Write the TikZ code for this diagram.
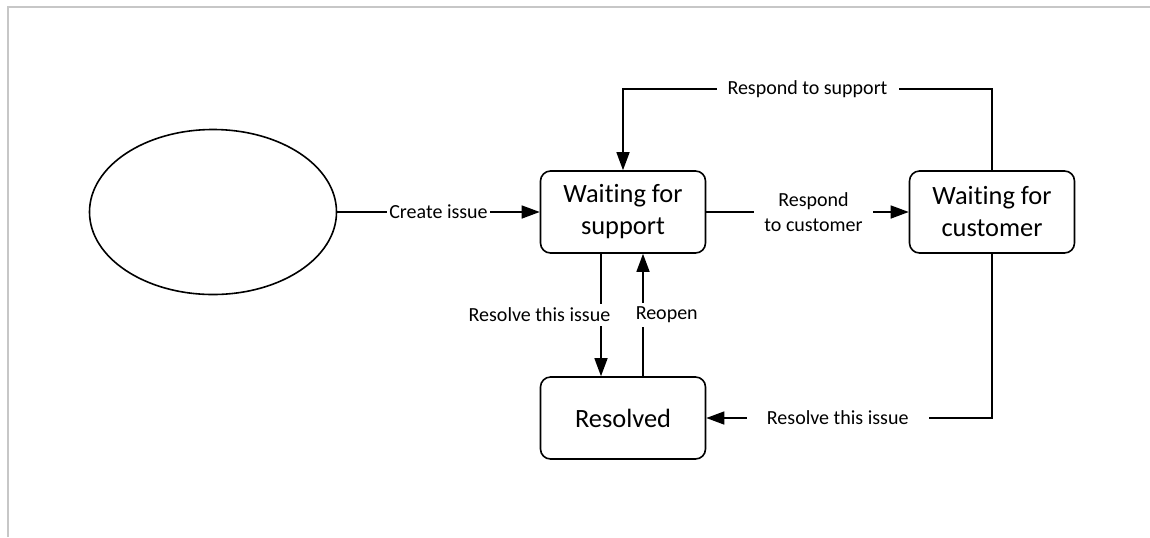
\documentclass[tikz,border=0pt]{standalone}
\usepackage{fontspec}
\setmainfont{Carlito}[Ligatures=NoCommon]
\usetikzlibrary{shapes.geometric,arrows.meta}
\tikzset{
  startnode/.style={draw, ellipse, line width=0.8pt, inner sep=0pt, minimum width=123.5pt, minimum height=82.5pt},
  state/.style={draw, rounded corners=5pt, line width=0.8pt, minimum width=82.5pt, minimum height=41pt, align=center, font=\fontsize{13.2}{16}\selectfont},
  arr/.style={line width=0.75pt, -{Triangle[length=9pt,width=6.5pt]}},
  lbl/.style={fill=white, inner xsep=1pt, inner ysep=2pt, align=center, font=\fontsize{10}{12.5}\selectfont},
}
\begin{document}
\begin{tikzpicture}[x=0.5pt,y=-0.5pt]
        \useasboundingbox (0,0) rectangle (1150,537);
        % Marco
        \draw[black!22, line width=1pt] (8,537) -- (8,7) -- (1150,7);

        % estados
        \node[startnode] (start) at (213,212) {};
        \node[state] (sup) at (623,212) {Waiting for\\support};
        \node[state] (cust) at (992,212) {Waiting for\\customer};
        \node[state] (res) at (623,418) {Resolved};
        \coordinate (top) at (0,89);

        % transiciones
        \draw[arr] (start) -- node[lbl] {Create issue} (sup);
        \draw[arr] (sup) -- node[lbl, inner xsep=5pt, xshift=3pt] {Respond\\to customer} (cust);
        \draw[arr] (cust.north) -- (cust.north |- top) -- node[lbl, inner xsep=5.5pt] {Respond to support} (sup.north |- top) -- (sup.north);

        \draw[arr] ([xshift=-11pt]sup.south) -- node[lbl, anchor=east, xshift=6pt] {Resolve this issue} ([xshift=-11pt]res.north);
        \draw[arr] ([xshift=10pt]res.north) -- node[lbl, anchor=west, xshift=-5pt] {Reopen} ([xshift=10pt]sup.south);

        \draw[arr] (cust.south) -- (cust.south |- res.east) -- node[lbl, pos=0.54, inner xsep=10pt] {Resolve this issue} (res.east);
\end{tikzpicture}
\end{document}
